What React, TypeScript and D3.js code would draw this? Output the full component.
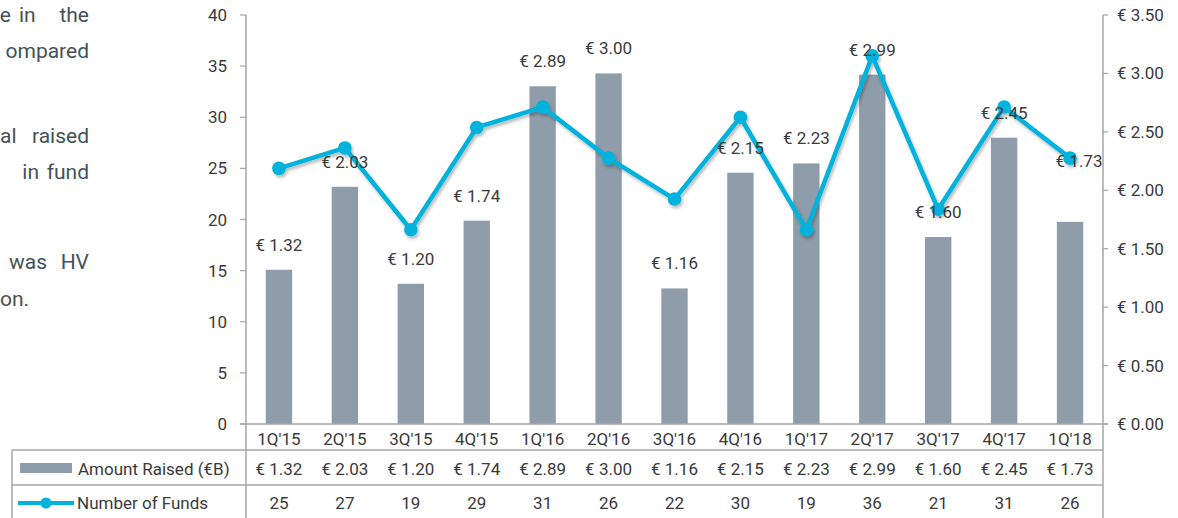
import React from "react";
import * as d3 from "d3";

const categories = ["1Q'15", "2Q'15", "3Q'15", "4Q'15", "1Q'16", "2Q'16", "3Q'16", "4Q'16", "1Q'17", "2Q'17", "3Q'17", "4Q'17", "1Q'18"];
const amountRaised = [1.32, 2.03, 1.2, 1.74, 2.89, 3.0, 1.16, 2.15, 2.23, 2.99, 1.6, 2.45, 1.73];
const numberOfFunds = [25, 27, 19, 29, 31, 26, 22, 30, 19, 36, 21, 31, 26];
const leftTicks = [0, 5, 10, 15, 20, 25, 30, 35, 40];
const rightTicks = [0, 0.5, 1, 1.5, 2, 2.5, 3, 3.5];
const seriesNames = ["Amount Raised (€B)", "Number of Funds"];

// clipped paragraph fragments to the left of the chart
const paragraphWords: { t: string; x: number; y: number; anchor: string }[][] = [
  [
    { t: "e", x: 11, y: 22, anchor: "end" },
    { t: "in", x: 19, y: 22, anchor: "start" },
    { t: "the", x: 89, y: 22, anchor: "end" },
  ],
  [{ t: "ompared", x: 89, y: 58, anchor: "end" }],
  [
    { t: "al", x: 16.5, y: 143, anchor: "end" },
    { t: "raised", x: 89, y: 143, anchor: "end" },
  ],
  [
    { t: "in", x: 39, y: 179, anchor: "end" },
    { t: "fund", x: 89, y: 179, anchor: "end" },
  ],
  [
    { t: "was", x: 47, y: 269, anchor: "end" },
    { t: "HV", x: 89, y: 269, anchor: "end" },
  ],
  [{ t: "on.", x: 0, y: 306, anchor: "start" }],
];

// manual nudge for labels that the original chart moved away from their default spot
const labelNudge: Record<number, { dx: number; dy: number }> = {
  12: { dx: 9, dy: -36 },
};

const W = 1178;
const H = 518;
const plotLeft = 246;
const plotRight = 1103;
const plotTop = 15;
const plotBottom = 424;
const tableLeft = 12;
const rowLines = [450, 485, 520];

const FONT = "Roboto, 'Noto Sans', sans-serif";
const BAR = "#8f9caa";
const LINE = "#00b2dc";
const AXIS = "#a6a6a6";
const TXT = "#3a3a3a";

export default function App() {
  const x = d3
    .scaleBand<string>()
    .domain(categories)
    .range([plotLeft, plotRight])
    .paddingInner(0.6)
    .paddingOuter(0.3);
  const yL = d3.scaleLinear().domain([0, 40]).range([plotBottom, plotTop]);
  const yR = d3.scaleLinear().domain([0, 3.5]).range([plotBottom, plotTop]);
  const cx = (c: string) => (x(c) as number) + x.bandwidth() / 2;

  const lineGen = d3
    .line<number>()
    .x((_, i) => cx(categories[i]))
    .y((d) => yL(d));

  const fmt = (v: number) => "€ " + v.toFixed(2);

  return (
    <svg
      width={W}
      height={H}
      style={{ position: "absolute", left: 0, top: 0, background: "#fff" }}
      fontFamily={FONT}
    >
      <defs>
        <filter id="sh" x="-20%" y="-20%" width="140%" height="140%">
          <feDropShadow dx="1.5" dy="2.5" stdDeviation="1.8" floodColor="#000" floodOpacity="0.28" />
        </filter>
      </defs>

      {/* paragraph fragments */}
      <g fontSize={21} fill="#435257">
        {paragraphWords.flat().map((w, i) => (
          <text key={i} x={w.x} y={w.y} textAnchor={w.anchor}>
            {w.t}
          </text>
        ))}
      </g>

      {/* bars */}
      {amountRaised.map((v, i) => (
        <rect
          key={i}
          x={x(categories[i])}
          y={yR(v)}
          width={x.bandwidth()}
          height={plotBottom - yR(v)}
          fill={BAR}
        />
      ))}

      {/* line */}
      <g filter="url(#sh)">
        <path d={lineGen(numberOfFunds) || ""} fill="none" stroke={LINE} strokeWidth={4.5} strokeLinejoin="round" />
        {numberOfFunds.map((v, i) => (
          <circle key={i} cx={cx(categories[i])} cy={yL(v)} r={6.8} fill={LINE} />
        ))}
      </g>

      {/* data labels */}
      <g fontSize={17} fill={TXT} textAnchor="middle">
        {amountRaised.map((v, i) => {
          const n = labelNudge[i] || { dx: 0, dy: 0 };
          return (
            <text key={i} x={cx(categories[i]) + n.dx} y={yR(v) - 19 + n.dy}>
              {fmt(v)}
            </text>
          );
        })}
      </g>

      {/* left axis */}
      <line x1={plotLeft} x2={plotLeft} y1={plotTop} y2={H} stroke={AXIS} strokeWidth={1.5} />
      {leftTicks.map((t) => (
        <g key={t}>
          <line x1={plotLeft - 6} x2={plotLeft} y1={yL(t)} y2={yL(t)} stroke={AXIS} strokeWidth={1.2} />
          <text x={227} y={yL(t) + 6} fontSize={17} fill={TXT} textAnchor="end">
            {t}
          </text>
        </g>
      ))}

      {/* right axis */}
      <line x1={plotRight} x2={plotRight} y1={plotTop} y2={H} stroke={AXIS} strokeWidth={1.5} />
      {rightTicks.map((t) => (
        <g key={t}>
          <line x1={plotRight} x2={plotRight + 5} y1={yR(t)} y2={yR(t)} stroke={AXIS} strokeWidth={1.2} />
          <text x={1117} y={yR(t) + 6} fontSize={17} fill={TXT} textAnchor="start">
            {fmt(t)}
          </text>
        </g>
      ))}

      {/* baseline */}
      <line x1={plotLeft - 6} x2={plotRight + 5} y1={plotBottom} y2={plotBottom} stroke={AXIS} strokeWidth={1.5} />

      {/* category labels */}
      <g fontSize={17} fill={TXT} textAnchor="middle">
        {categories.map((c) => (
          <text key={c} x={cx(c)} y={445}>
            {c}
          </text>
        ))}
      </g>

      {/* data table */}
      <g stroke={AXIS} strokeWidth={1.5}>
        {rowLines.map((y) => (
          <line key={y} x1={tableLeft} x2={plotRight} y1={y} y2={y} />
        ))}
        <line x1={tableLeft} x2={tableLeft} y1={rowLines[0]} y2={H} />
      </g>
      <rect x={20} y={463} width={52} height={10} fill={BAR} />
      <line x1={18} x2={74} y1={503} y2={503} stroke={LINE} strokeWidth={4} />
      <circle cx={46} cy={503} r={5.5} fill={LINE} />
      <g fontSize={17} fill={TXT}>
        <text x={78} y={475}>{seriesNames[0]}</text>
        <text x={77} y={509}>{seriesNames[1]}</text>
      </g>
      <g fontSize={17} fill={TXT} textAnchor="middle">
        {amountRaised.map((v, i) => (
          <text key={i} x={cx(categories[i])} y={475}>
            {fmt(v)}
          </text>
        ))}
        {numberOfFunds.map((v, i) => (
          <text key={i} x={cx(categories[i])} y={509}>
            {v}
          </text>
        ))}
      </g>
    </svg>
  );
}
